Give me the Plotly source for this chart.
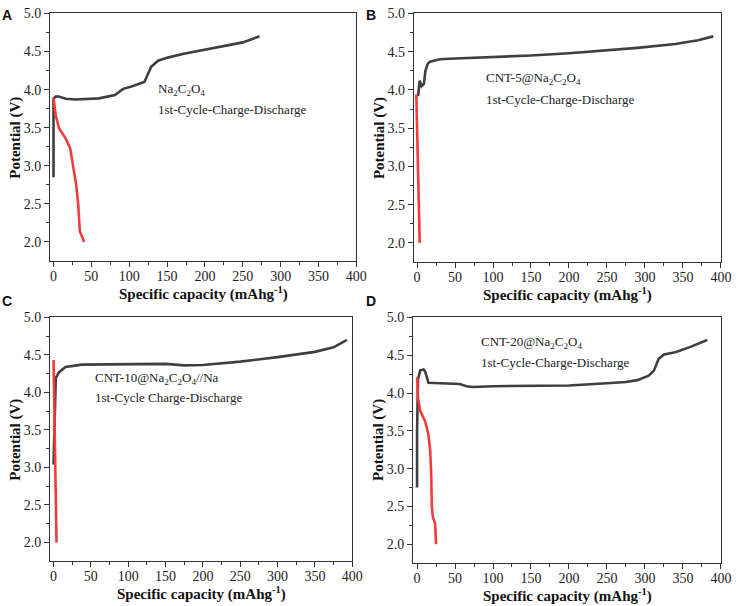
import plotly.graph_objects as go

# ---- data ----
A_charge_x = [0, 0, 3, 7, 16, 29, 60, 81, 92, 103, 120, 125, 129, 138, 151, 172, 198, 233, 250, 272]
A_charge_y = [2.85, 3.88, 3.91, 3.91, 3.88, 3.87, 3.885, 3.93, 4.01, 4.04, 4.10, 4.20, 4.30, 4.38, 4.42, 4.47, 4.52, 4.59, 4.62, 4.70]
A_dis_x = [0, 3, 7.4, 16, 22, 25, 30, 32.6, 34.8, 40.5]
A_dis_y = [3.89, 3.66, 3.49, 3.36, 3.23, 3.05, 2.75, 2.49, 2.14, 2.0]

B_charge_x = [1.3, 2.5, 3.5, 6, 9, 11, 14, 17, 30, 50, 100, 150, 200, 250, 290, 340, 370, 390]
B_charge_y = [3.92, 4.10, 4.12, 4.05, 4.08, 4.25, 4.34, 4.37, 4.40, 4.41, 4.43, 4.45, 4.48, 4.52, 4.55, 4.60, 4.65, 4.70]
B_dis_x = [-1, 3.5]
B_dis_y = [3.94, 2.0]

C_charge_x = [0, 1.5, 3, 7.5, 16, 38, 100, 150, 175, 200, 250, 300, 350, 375, 393]
C_charge_y = [3.04, 3.8, 4.19, 4.27, 4.34, 4.37, 4.375, 4.38, 4.36, 4.365, 4.41, 4.47, 4.54, 4.60, 4.70]
C_dis_x = [0, 4]
C_dis_y = [4.43, 2.0]

D_charge_x = [0, 0, 1.3, 4.3, 8.6, 10.8, 15, 30, 56, 65, 73.5, 100, 150, 200, 250, 275, 290, 305, 312, 318, 325, 340, 360, 382]
D_charge_y = [2.75, 3.5, 4.19, 4.30, 4.31, 4.28, 4.135, 4.13, 4.12, 4.09, 4.08, 4.09, 4.10, 4.10, 4.13, 4.145, 4.17, 4.23, 4.30, 4.45, 4.51, 4.54, 4.61, 4.70]
D_dis_x = [0, 1.3, 4.3, 10.8, 15, 17.3, 18.6, 19.5, 20.8, 23.8, 25]
D_dis_y = [4.21, 3.93, 3.76, 3.62, 3.45, 3.24, 2.93, 2.49, 2.36, 2.27, 2.0]

x_ticks = [0, 50, 100, 150, 200, 250, 300, 350, 400]
y_ticks = [2.0, 2.5, 3.0, 3.5, 4.0, 4.5, 5.0]

W, H = 745, 606
CHARGE_COLOR = "#3f3f3f"
DIS_COLOR = "#f23b3b"
SERIF = "Liberation Serif, Times New Roman, Times, serif"

panels = [
    ("A", (50.7, 361.7, 6.5, 257.0), (-4.7, 400), A_charge_x, A_charge_y, A_dis_x, A_dis_y),
    ("B", (420.0, 732.3, 6.5, 258.0), (-4.3, 400.8), B_charge_x, B_charge_y, B_dis_x, B_dis_y),
    ("C", (50.7, 357.5, 314.0, 560.7), (-4.8, 400), C_charge_x, C_charge_y, C_dis_x, C_dis_y),
    ("D", (419.3, 732.3, 314.0, 562.7), (-5.2, 400.8), D_charge_x, D_charge_y, D_dis_x, D_dis_y),
]

fig = go.Figure()
annotations = []
layout_axes = {}
TITLE_FONT = dict(family=SERIF, size=15, color="#111111")

for i, (letter, (l, r, t, b), xr, cx, cy, dx, dy) in enumerate(panels):
    n = "" if i == 0 else str(i + 1)
    xa, ya = "x" + n, "y" + n
    fig.add_trace(go.Scatter(x=cx, y=cy, mode="lines", xaxis=xa, yaxis=ya,
                             line=dict(color=CHARGE_COLOR, width=2.6), showlegend=False))
    fig.add_trace(go.Scatter(x=dx, y=dy, mode="lines", xaxis=xa, yaxis=ya,
                             line=dict(color=DIS_COLOR, width=2.6), showlegend=False))
    common = dict(showline=True, linecolor="#333333", linewidth=1, mirror=True,
                  ticks="outside", ticklen=5, tickwidth=1, tickcolor="#333333",
                  showgrid=False, zeroline=False,
                  tickfont=dict(family=SERIF, size=14, color="#222222"))
    layout_axes["xaxis" + n] = dict(
        common, domain=[l / W, r / W], range=list(xr), anchor=ya,
        tickvals=x_ticks, ticklabelstandoff=-3,
        minor=dict(ticks="outside", ticklen=3, tickvals=[25, 75, 125, 175, 225, 275, 325, 375], tickcolor="#333333"))
    layout_axes["yaxis" + n] = dict(
        common, domain=[1 - b / H, 1 - t / H], range=[1.75, 5.0], anchor=xa,
        tickvals=y_ticks, ticktext=["%.1f" % v for v in y_ticks],
        minor=dict(ticks="outside", ticklen=3, tickvals=[2.25, 2.75, 3.25, 3.75, 4.25, 4.75], tickcolor="#333333"))
    annotations.append(dict(text="<b>Specific capacity (mAhg<sup>-1</sup>)</b>",
                            x=(l + r) / 2 / W, y=1 - (b + 21) / H, xref="paper", yref="paper",
                            xanchor="center", yanchor="top", showarrow=False, font=TITLE_FONT))
    annotations.append(dict(text="<b>Potential (V)</b>", textangle=-90,
                            x=(l - 35) / W, y=1 - (t + b) / 2 / H, xref="paper", yref="paper",
                            xanchor="center", yanchor="middle", showarrow=False, font=TITLE_FONT))

letters = [("A", 7, 8), ("B", 377, 8), ("C", 7, 297), ("D", 377, 297)]
for txt, px, py in letters:
    annotations.append(dict(text="<b>%s</b>" % txt, x=px / W, y=1 - py / H, xref="paper", yref="paper",
                            xanchor="center", yanchor="middle", showarrow=False,
                            font=dict(family="Liberation Sans, Arial, sans-serif", size=14, color="#111111")))

labels = [
    ("Na<sub>2</sub>C<sub>2</sub>O<sub>4</sub>", 158, 83),
    ("1st-Cycle-Charge-Discharge", 158, 104),
    ("CNT-5@Na<sub>2</sub>C<sub>2</sub>O<sub>4</sub>", 491, 72),
    ("1st-Cycle-Charge-Discharge", 491, 94),
    ("CNT-10@Na<sub>2</sub>C<sub>2</sub>O<sub>4</sub>//Na", 94, 376),
    ("1st-Cycle Charge-Discharge", 94, 395),
    ("CNT-20@Na<sub>2</sub>C<sub>2</sub>O<sub>4</sub>", 486, 339),
    ("1st-Cycle-Charge-Discharge", 486, 360),
]
for txt, px, py in labels:
    annotations.append(dict(text=txt, x=px / W, y=1 - py / H, xref="paper", yref="paper",
                            xanchor="left", yanchor="middle", showarrow=False,
                            font=dict(family=SERIF, size=13, color="#222222")))

fig.update_layout(width=W, height=H, margin=dict(l=0, r=0, t=0, b=0),
                  paper_bgcolor="white", plot_bgcolor="white",
                  font=dict(family=SERIF, size=14, color="#222222"),
                  annotations=annotations, **layout_axes)

fig.write_html("out.html")
